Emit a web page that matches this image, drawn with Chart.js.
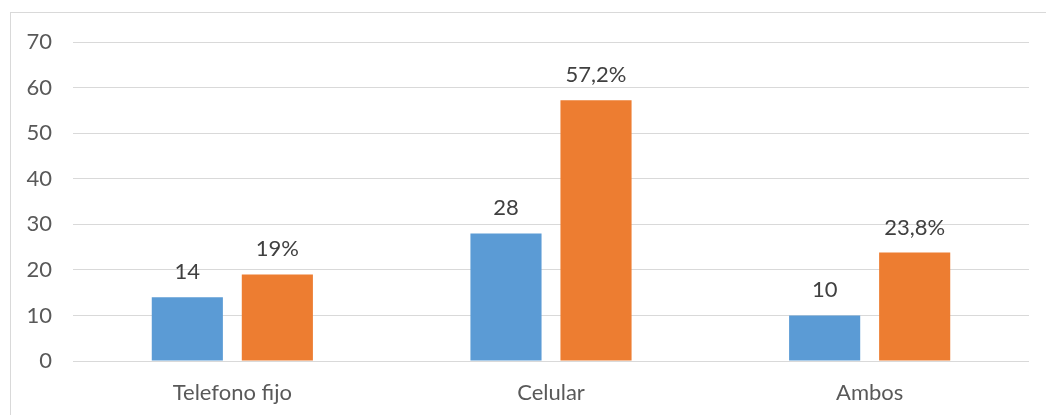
<!DOCTYPE html>
<html>
<head>
<meta charset="utf-8">
<script src="https://cdn.jsdelivr.net/npm/chart.js@4.4.1/dist/chart.umd.min.js"></script>
<style>
  html, body { margin: 0; padding: 0; background: #fff; }
  #wrap { position: relative; width: 1046px; height: 415px; overflow: hidden; }
  #frame { position: absolute; left: 10px; top: 12px; width: 1100px; height: 500px;
           border-left: 1px solid #d9d9d9; border-top: 1px solid #d9d9d9; }
  canvas { position: absolute; left: 0; top: 0; }
</style>
</head>
<body>
<div id="wrap">
  <div id="frame"></div>
  <canvas id="chart" width="1046" height="415"></canvas>
</div>
<script>
// values
const categories = ['Telefono fijo', 'Celular', 'Ambos'];
const countValues = [14, 28, 10];
const percentValues = [19, 57.2, 23.8];
const percentLabels = ['19%', '57,2%', '23,8%'];
const yTicks = [0, 10, 20, 30, 40, 50, 60, 70];

const FONT = 'Lato, "Open Sans", sans-serif';
const TEXT = '#595959';

// draws the value above each bar, like the original data labels
const barLabels = {
    id: 'barLabels',
    afterDatasetsDraw(chart) {
        const ctx = chart.ctx;
        ctx.save();
        ctx.font = `22px ${FONT}`;
        ctx.fillStyle = '#404040';
        ctx.textAlign = 'center';
        ctx.textBaseline = 'alphabetic';
        chart.data.datasets.forEach((ds, di) => {
            chart.getDatasetMeta(di).data.forEach((bar, i) => {
                const txt = ds.labelText ? ds.labelText[i] : String(ds.data[i]);
                ctx.fillText(txt, bar.x, bar.y - 18);
            });
        });
        ctx.restore();
    },
};

new Chart(document.getElementById('chart'), {
    type: 'bar',
    data: {
        labels: categories,
        datasets: [
            { label: 'Cantidad', data: countValues, backgroundColor: '#5b9bd5',
              categoryPercentage: 0.565, barPercentage: 0.79 },
            { label: 'Porcentaje', data: percentValues, labelText: percentLabels, backgroundColor: '#ed7d31',
              categoryPercentage: 0.565, barPercentage: 0.79 },
        ],
    },
    options: {
        responsive: false,
        animation: false,
        layout: { padding: { left: 0, right: 17, top: 42, bottom: 0 } },
        plugins: { legend: { display: false }, tooltip: { enabled: false } },
        scales: {
            x: {
                grid: { display: false, drawTicks: false },
                border: { display: false },
                ticks: { color: TEXT, font: { family: FONT, size: 22 }, padding: 19 },
                afterFit: (s) => { s.height = 54; },
            },
            y: {
                min: 0, max: 70,
                afterBuildTicks: (s) => { s.ticks = yTicks.map(v => ({ value: v })); },
                grid: { color: '#d9d9d9', lineWidth: 1, drawTicks: false },
                border: { display: false },
                ticks: { color: TEXT, font: { family: FONT, size: 22 }, padding: 21 },
                afterFit: (s) => { s.width = 73; },
            },
        },
    },
    plugins: [barLabels],
});
</script>
</body>
</html>
